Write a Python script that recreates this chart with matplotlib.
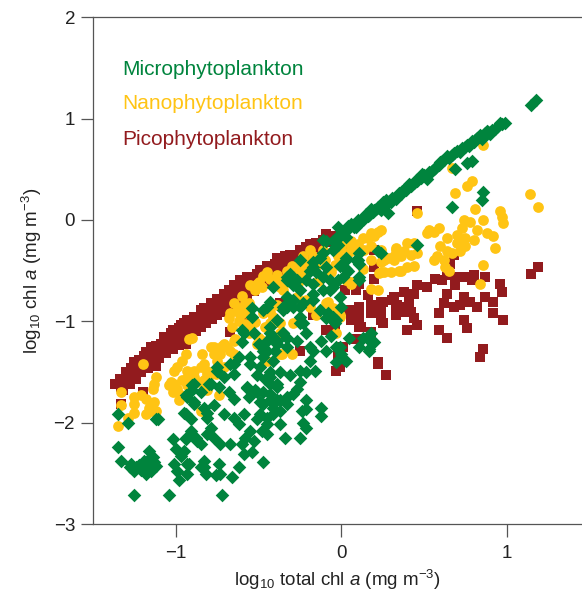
import matplotlib
matplotlib.use('Agg')
import matplotlib.pyplot as plt

plt.rcParams['font.family'] = ['Liberation Sans', 'DejaVu Sans']
plt.rcParams['mathtext.fontset'] = 'custom'
plt.rcParams['mathtext.rm'] = 'Liberation Sans'
plt.rcParams['mathtext.it'] = 'Liberation Sans:italic'

# colours of the three size classes
c_micro = '#00843D'
c_nano = '#FFC414'
c_pico = '#921B1E'

# Microphytoplankton (log10 total chl a, log10 class chl a)
micro_pts = [
    (1.18, 1.18), (1.15, 1.13), (0.97, 0.95), (0.94, 0.92), (0.91, 0.89), (0.87, 0.86),
    (0.84, 0.84), (0.82, 0.81), (0.79, 0.78), (0.76, 0.74), (0.73, 0.71), (0.70, 0.68),
    (0.67, 0.64), (0.64, 0.63), (0.62, 0.59), (0.59, 0.54), (0.57, 0.51), (0.55, 0.48),
    (0.52, 0.40), (0.46, 0.38), (0.44, 0.36), (0.42, 0.33), (0.39, 0.30), (0.36, 0.26),
    (0.33, 0.21), (0.30, 0.18), (0.27, 0.20), (0.24, 0.15), (0.22, 0.13), (0.19, 0.08),
    (0.17, 0.05), (0.13, 0.02), (0.11, -0.02), (0.08, -0.07), (0.05, -0.08), (0.02, -0.10),
    (-0.02, -0.07), (0.00, -0.15), (-0.03, -0.18), (-0.05, -0.21),
    (0.96, 0.96), (0.89, 0.87), (0.80, 0.77), (0.75, 0.72), (0.68, 0.66), (0.60, 0.57),
    (0.50, 0.44), (0.48, 0.41), (0.40, 0.32), (0.34, 0.24), (0.28, 0.17), (0.25, 0.18),
    (0.20, 0.10), (0.15, 0.06), (0.10, 0.00), (0.06, -0.04),
    (0.90, 0.85), (0.85, 0.80), (0.81, 0.79), (0.77, 0.73), (0.72, 0.67), (0.65, 0.61),
    (0.61, 0.58), (0.56, 0.50), (0.53, 0.47), (0.49, 0.45), (0.45, 0.39), (0.41, 0.35),
    (0.37, 0.29), (0.35, 0.27), (0.31, 0.22), (0.26, 0.16), (0.23, 0.12), (0.21, 0.11),
    (0.16, 0.04), (0.12, -0.01), (0.07, -0.05), (0.04, -0.06), (0.93, 0.90), (0.99, 0.96),
    (0.88, 0.88),
    (0.79, 0.58), (0.76, 0.56), (0.69, 0.50), (0.86, 0.28), (0.85, 0.20), (0.67, 0.13),
    (0.46, -0.25), (0.18, 0.11), (0.24, 0.10), (0.28, 0.07), (0.13, 0.00), (0.09, -0.07),
    (0.03, -0.17), (0.03, -0.40), (-0.11, -0.20), (-0.11, -0.33), (-0.03, -0.26), (-0.09, -0.46),
    (-0.17, -0.46), (-0.17, -0.73), (-0.25, -0.40), (-0.25, -0.86), (-0.33, -0.56), (-0.33, -0.86),
    (-0.07, -0.69), (0.01, -0.56), (0.04, -0.50), (0.11, -0.43), (0.22, -0.31), (0.24, -0.33),
    (0.11, -0.56), (0.09, -0.40),
    (0.01, -0.13), (-0.09, -0.21), (-0.05, -0.30), (-0.02, -0.25), (0.03, -0.38), (-0.01, -0.45),
    (0.11, -0.33), (0.10, -0.40), (0.03, -0.48), (0.11, -0.59), (-0.13, -0.38), (-0.17, -0.41),
    (-0.19, -0.50), (-0.15, -0.51), (-0.11, -0.56), (-0.07, -0.59), (-0.02, -0.59), (-0.05, -0.66),
    (-0.11, -0.69), (-0.17, -0.63), (-0.21, -0.59), (-0.25, -0.69), (-0.29, -0.64), (-0.31, -0.53),
    (-0.27, -0.59), (-0.33, -0.76), (-0.29, -0.79), (-0.35, -0.86), (-0.23, -0.82), (-0.17, -0.79),
    (-0.13, -0.89), (-0.01, -0.76), (0.00, -0.86), (-0.25, -0.96), (-0.09, -0.97),
    (-0.41, -0.66), (-0.33, -0.59), (-0.33, -0.76), (-0.43, -0.81), (-0.47, -0.89), (-0.54, -0.87),
    (-0.54, -0.96), (-0.39, -0.99), (-0.43, -1.06), (-0.35, -0.89), (-0.60, -1.09), (-0.60, -1.20),
    (-0.47, -1.25), (-0.39, -1.22), (-0.33, -1.16),
    (0.05, -1.16), (0.13, -1.16), (0.18, -1.20), (0.11, -1.25), (0.17, -1.29), (-0.03, -1.25),
    (0.00, -1.32), (0.03, -1.39), (-0.09, -1.29), (-0.12, -1.19), (-0.17, -1.29), (-0.19, -1.39),
    (-0.25, -1.02), (-0.05, -0.96), (-0.08, -0.92), (-0.04, -1.02),
    (-0.45, -0.86), (-0.33, -0.83), (-0.29, -0.86), (-0.23, -1.02), (-0.21, -1.12), (-0.27, -1.19),
    (-0.35, -1.12), (-0.45, -1.29), (-0.41, -1.39), (-0.19, -1.25), (-0.07, -0.96), (-0.03, -0.99),
    (-0.06, -1.14), (-0.01, -1.25), (-0.03, -1.40), (0.16, -1.16), (0.20, -1.20), (0.17, -1.27),
    (0.18, -1.12),
    (-0.37, -1.50), (-0.39, -1.62), (-0.31, -1.53), (-0.25, -1.49), (-0.25, -1.60), (-0.21, -1.50),
    (-0.16, -1.49), (-0.43, -1.62), (-0.47, -1.70), (-0.43, -1.78), (-0.39, -1.78), (-0.33, -1.82),
    (-0.37, -1.88), (-0.41, -1.91), (-0.29, -1.72), (-0.27, -1.67), (-0.21, -1.78), (-0.21, -1.86),
    (-0.24, -1.88), (-0.12, -1.85), (-0.12, -1.93), (-0.23, -2.00), (-0.21, -2.05), (-0.37, -2.01),
    (-0.45, -2.01), (-0.45, -2.11), (-0.34, -2.15), (-0.25, -2.15), (-0.49, -1.91),
    (-0.62, -1.35), (-0.55, -1.42), (-0.67, -1.42), (-0.65, -1.52), (-0.75, -1.49), (-0.79, -1.62),
    (-0.89, -1.62), (-0.85, -1.70), (-0.94, -1.73), (-0.74, -1.65), (-0.68, -1.70), (-0.65, -1.77),
    (-0.57, -1.65), (-0.52, -1.68), (-0.56, -1.75), (-0.49, -1.80), (-0.43, -1.72), (-0.41, -1.85),
    (-0.89, -1.82), (-0.77, -1.83), (-0.81, -1.90), (-0.95, -1.90), (-0.71, -1.91), (-0.65, -1.95),
    (-0.59, -1.91), (-0.62, -2.01), (-0.51, -1.96), (-0.45, -1.95), (-0.48, -2.08), (-0.55, -2.08),
    (-0.58, -2.15), (-0.53, -2.18), (-0.94, -2.15), (-0.88, -2.15), (-0.85, -2.21), (-0.79, -2.05),
    (-0.77, -2.15), (-0.73, -2.21), (-0.67, -2.21), (-0.60, -2.21), (-0.59, -2.31), (-0.54, -2.29),
    (-0.47, -2.39), (-0.95, -2.28), (-0.92, -2.41), (-0.83, -2.44), (-0.83, -2.38), (-0.74, -2.41),
    (-0.62, -2.44), (-0.76, -2.52), (-0.73, -2.51), (-0.66, -2.54), (-0.72, -2.71),
    (-0.59, -1.12), (-0.50, -1.22), (-0.45, -1.19), (-0.42, -1.14), (-0.40, -1.29), (-0.47, -1.35),
    (-0.49, -1.45), (-0.43, -1.50), (-0.46, -1.57), (-0.51, -1.53),
    (-1.35, -1.91), (-1.29, -2.00), (-1.12, -1.96), (-1.35, -2.24), (-1.33, -2.38), (-1.27, -2.41),
    (-1.24, -2.44), (-1.25, -2.48), (-1.20, -2.41), (-1.16, -2.28), (-1.14, -2.34), (-1.17, -2.41),
    (-1.12, -2.43), (-1.15, -2.48), (-1.18, -2.51), (-1.25, -2.71), (-1.04, -2.71), (-1.02, -2.16),
    (-1.00, -2.26), (-0.97, -2.33), (-1.01, -2.41), (-0.99, -2.48), (-0.98, -2.56), (-0.93, -2.51),
    (-0.93, -2.41), (-0.94, -2.16), (-0.94, -1.91), (-0.91, -1.96), (-0.91, -2.08), (-0.87, -2.18),
    (-0.85, -2.44), (-0.82, -2.51), (-0.90, -1.68), (-0.93, -1.75), (-0.89, -1.80), (-0.83, -1.85),
    (-0.81, -1.95), (-0.80, -1.62), (-0.81, -2.11),
    (-1.22, -2.42), (-1.19, -2.38), (-1.16, -2.36), (-1.13, -2.39), (-1.28, -2.44), (-1.21, -2.47),
    (-0.53, -1.12), (-0.43, -1.12), (-0.39, -1.19), (-0.35, -1.12), (-0.33, -1.25), (-0.47, -1.29),
    (-0.55, -1.35), (-0.65, -1.42), (-0.75, -1.45), (-0.71, -1.55), (-0.90, -1.63), (-0.57, -1.66),
    (-0.51, -1.70), (-0.43, -1.55), (-0.39, -1.65), (-0.47, -1.82), (-0.37, -1.78), (-0.33, -1.75),
    (-1.11, -1.96),
]

# Nanophytoplankton
nano_pts = [
    (-1.20, -1.42), (-1.12, -1.55), (-1.13, -1.62), (-1.14, -1.67), (-1.33, -1.70), (-1.25, -1.75),
    (-1.21, -1.73), (-1.25, -1.82), (-1.25, -1.90), (-1.18, -1.77), (-1.16, -1.85), (-1.13, -1.80),
    (-1.12, -1.88), (-1.15, -1.88), (-1.18, -1.91), (-1.33, -1.83), (-1.29, -1.95), (-1.35, -2.03),
    (-1.04, -1.63), (-1.01, -1.62), (-1.02, -1.70), (-0.99, -1.67), (-0.97, -1.73), (-0.98, -1.78),
    (-0.96, -1.58), (-0.94, -1.57), (-0.93, -1.63), (-0.91, -1.58), (-0.87, -1.60), (-0.99, -1.45),
    (-0.93, -1.49), (-0.96, -1.39), (-0.94, -1.32), (-0.85, -1.45), (-0.84, -1.32), (-0.83, -1.42),
    (-0.81, -1.52), (-0.85, -1.88), (-0.90, -1.16), (-0.89, -1.49),
    (-0.45, -0.51), (-0.39, -0.54), (-0.36, -0.59), (-0.50, -0.61), (-0.55, -0.64), (-0.52, -0.69),
    (-0.48, -0.66), (-0.65, -0.82), (-0.61, -0.87), (-0.67, -0.92), (-0.68, -0.97), (-0.61, -0.94),
    (-0.56, -0.82), (-0.52, -1.01), (-0.46, -1.06), (-0.50, -1.16), (-0.56, -1.12), (-0.64, -1.17),
    (-0.71, -1.22), (-0.77, -1.25), (-0.43, -0.91), (-0.39, -0.84), (-0.35, -0.69), (-0.37, -1.12),
    (-0.51, -0.63), (-0.92, -1.17), (-0.77, -1.27), (-0.72, -1.24), (-0.65, -1.19),
    (-0.11, -0.30), (0.02, -0.21), (0.06, -0.21), (0.16, -0.18), (0.20, -0.16), (0.22, -0.12),
    (0.18, -0.26), (0.24, -0.30), (0.33, -0.30), (0.32, -0.36), (0.26, -0.40), (0.24, -0.51),
    (0.30, -0.51), (0.35, -0.50), (0.18, -0.40), (0.13, -0.48), (0.06, -0.61), (0.18, -0.68),
    (0.22, -0.69), (-0.08, -0.81), (-0.05, -0.87), (-0.19, -0.30), (-0.23, -0.36), (-0.25, -0.43),
    (-0.21, -0.51), (-0.25, -0.56), (-0.33, -0.61), (-0.37, -0.66), (-0.27, -0.76), (-0.21, -0.79),
    (-0.19, -0.86), (-0.01, -0.96), (0.03, -0.59), (-0.06, -0.51),
    (0.86, 0.74), (0.67, 0.51), (0.79, 0.38), (0.76, 0.33), (0.69, 0.27), (1.14, 0.26),
    (1.19, 0.13), (0.46, 0.07), (0.81, 0.11), (0.96, 0.09), (0.97, 0.03), (0.98, -0.03),
    (0.86, 0.00), (0.74, 0.00), (0.78, -0.02), (0.73, -0.08), (0.82, -0.10), (0.88, -0.13),
    (0.92, -0.16), (0.93, -0.28), (0.80, -0.20), (0.75, -0.18), (0.70, -0.15), (0.70, -0.23),
    (0.75, -0.26), (0.72, -0.31), (0.64, -0.18), (0.59, -0.08), (0.56, -0.12), (0.52, -0.13),
    (0.60, -0.26), (0.64, -0.31), (0.58, -0.36), (0.56, -0.40), (0.62, -0.40), (0.63, -0.46),
    (0.65, -0.50), (0.86, -0.44), (0.84, -0.63), (0.44, -0.23), (0.40, -0.23), (0.38, -0.31),
    (0.33, -0.28), (0.36, -0.36), (0.42, -0.35), (0.46, -0.33), (0.44, -0.45), (0.40, -0.46),
    (0.36, -0.50), (0.32, -0.40), (0.28, -0.38), (0.24, -0.41), (0.26, -0.51), (0.23, -0.52),
    (0.06, -0.63), (-0.09, -0.82), (-0.06, -0.89), (-0.01, -0.94), (-0.03, -1.12), (-0.15, -0.94),
    (-0.29, -1.02), (-0.30, -1.32), (0.24, -0.10), (0.18, -0.13), (0.13, -0.18), (0.06, -0.26),
    (-0.17, -0.36), (-0.19, -0.43), (-0.22, -0.46), (-0.25, -0.50), (0.67, -0.33), (0.53, -0.10),
    (-0.47, -0.92), (-0.41, -0.96), (-0.37, -1.02), (-0.43, -1.02), (-0.36, -1.32), (-0.45, -1.39),
    (-1.01, -1.49), (-1.03, -1.60), (-0.79, -1.25), (-0.73, -1.32), (-0.69, -1.25), (-0.65, -1.32),
    (-0.71, -1.45), (-0.79, -1.52), (-0.75, -1.39), (-0.83, -1.58), (-0.81, -1.68), (-0.74, -1.73),
    (-0.89, -1.55), (-0.55, -1.06), (-0.51, -1.22), (-0.47, -1.19), (-0.37, -1.32),
    (-0.77, -1.32), (-0.81, -1.49), (-0.84, -1.60), (-0.76, -1.52), (-0.67, -1.29),
    (-0.47, -0.55), (-0.43, -0.58), (-0.40, -0.62), (-0.33, -0.50), (-0.30, -0.45), (-0.28, -0.55),
    (-0.26, -0.62), (-0.20, -0.42), (-0.15, -0.45), (-0.14, -0.60), (-0.10, -0.40), (-0.08, -0.50),
    (-0.04, -0.44), (-0.02, -0.36), (0.00, -0.28), (0.04, -0.33), (0.08, -0.30), (0.10, -0.24),
    (0.14, -0.30), (-0.60, -0.75), (-0.58, -0.82), (-0.63, -0.90), (-0.57, -0.92), (-0.62, -1.00),
    (-0.66, -1.06), (-0.58, -1.03),
]

# Picophytoplankton
pico_pts = [
    (-1.37, -1.62), (-1.33, -1.65), (-1.34, -1.57), (-1.29, -1.55), (-1.25, -1.49), (-1.25, -1.40),
    (-1.19, -1.34), (-1.16, -1.32), (-1.14, -1.27), (-1.12, -1.24), (-1.12, -1.44), (-1.15, -1.39),
    (-1.12, -1.34), (-1.20, -1.70), (-1.33, -1.82), (-1.03, -1.19), (-1.03, -1.12), (-0.99, -1.16),
    (-0.97, -1.11), (-0.94, -1.22),
    (-1.15, -1.25), (-1.05, -1.19), (-1.01, -1.16), (-1.02, -1.09), (-0.98, -1.07), (-0.95, -1.02),
    (-0.91, -0.99), (-0.91, -1.07), (-0.87, -0.96), (-0.85, -0.89), (-0.81, -0.94), (-0.79, -0.86),
    (-0.76, -0.84), (-0.73, -0.79), (-0.70, -0.76), (-0.67, -0.73), (-0.71, -0.86), (-0.63, -0.69),
    (-0.61, -0.76), (-0.58, -0.66), (-0.55, -0.61), (-0.53, -0.56), (-0.51, -0.53), (-0.47, -0.50),
    (-0.43, -0.46), (-0.40, -0.43), (-0.37, -0.40), (-0.34, -0.36), (-0.31, -0.35), (-0.59, -0.96),
    (-0.67, -1.11),
    (-0.57, -0.56), (-0.61, -0.59), (-0.65, -0.64), (-0.68, -0.69), (-0.71, -0.73), (-0.75, -0.78),
    (-0.79, -0.82), (-0.83, -0.87), (-0.85, -0.92), (-0.89, -0.96), (-0.93, -0.99), (-0.97, -1.04),
    (-0.99, -1.13), (-0.55, -0.66),
    (-1.30, -1.50), (-1.27, -1.46), (-1.22, -1.38), (-1.18, -1.30), (-1.09, -1.22), (-1.07, -1.15),
    (-0.89, -1.02), (-0.49, -0.49), (-0.45, -0.45), (-0.39, -0.38),
    (-1.32, -1.68), (-1.28, -1.62), (-1.24, -1.57), (-1.21, -1.50), (-1.17, -1.46), (-1.13, -1.42),
    (-1.10, -1.36), (-1.06, -1.31), (-1.02, -1.27), (-0.98, -1.23), (-0.95, -1.18), (-0.92, -1.14),
    (-0.88, -1.10), (-0.85, -1.06), (-0.82, -1.02), (-0.78, -0.98), (-0.75, -0.94), (-0.72, -0.91),
    (-0.69, -0.87), (-0.66, -0.83), (-0.63, -0.80), (-0.60, -0.77), (-0.57, -0.74), (-0.53, -0.70),
    (-0.50, -0.66), (-0.47, -0.63), (-0.44, -0.60), (-0.41, -0.57), (-0.38, -0.54), (-0.35, -0.51),
    (-0.32, -0.49), (-0.28, -0.47), (-0.24, -0.43), (-0.20, -0.40), (-0.16, -0.36),
    (-1.31, -1.58), (-1.23, -1.48), (-1.17, -1.40), (-1.08, -1.29), (-1.00, -1.20), (-0.93, -1.10),
    (-0.86, -1.00), (-0.80, -0.93), (-0.74, -0.87), (-0.68, -0.80), (-0.62, -0.72), (-0.56, -0.67),
    (-0.50, -0.59), (-0.44, -0.53), (-0.38, -0.47), (-0.32, -0.42), (-0.26, -0.38), (-0.13, -0.28),
    (-0.08, -0.22), (-0.02, -0.19), (-0.09, -0.14),
    (-0.15, -0.23), (-0.05, -0.16), (-0.17, -0.30), (-0.23, -0.33), (-0.29, -0.36), (-0.33, -0.38),
    (-0.35, -0.46), (-0.29, -0.46), (-0.36, -0.56), (-0.27, -0.40), (0.05, -0.30), (0.20, -0.30),
    (0.09, -0.69), (0.02, -0.69), (0.16, -0.74), (0.24, -0.81), (0.31, -0.79), (0.33, -0.86),
    (0.24, -0.89), (0.18, -0.92), (0.09, -0.92), (-0.17, -0.94),
    (-0.21, -0.27), (-0.11, -0.20), (-0.25, -0.30), (-0.19, -0.24),
    (0.11, -0.86), (0.18, -0.84), (0.34, -0.84), (0.33, -0.94), (0.23, -0.92), (0.11, -1.06),
    (0.18, -1.11), (0.25, -1.02), (0.22, -1.40), (0.27, -1.53), (0.01, -1.25), (-0.03, -1.49),
    (-0.25, -1.29), (-0.37, -0.82), (0.05, -0.89), (0.09, -1.17),
    (0.46, 0.09), (0.68, -0.35), (0.66, -0.43), (0.64, -0.54), (0.57, -0.58), (0.61, -0.59),
    (0.52, -0.66), (0.70, -0.56), (0.69, -0.64), (0.76, -0.56), (0.80, -0.54), (0.87, -0.56),
    (0.79, -0.59), (0.96, -0.63), (0.97, -0.71), (0.92, -0.81), (0.87, -0.76), (0.82, -0.86),
    (0.78, -0.81), (0.74, -0.76), (0.72, -0.84), (0.68, -0.86), (0.62, -0.82), (0.59, -0.92),
    (0.64, -0.73), (0.46, -0.64), (0.44, -0.73), (0.38, -0.71), (0.41, -0.81), (0.38, -0.86),
    (0.42, -0.91), (0.44, -0.97), (0.46, -1.04), (0.40, -1.09), (0.36, -0.91), (0.32, -0.76),
    (0.25, -0.81), (0.23, -0.91), (0.24, -0.99), (0.11, -0.96), (0.06, -0.99), (0.12, -1.06),
    (0.10, -1.17), (0.59, -1.09), (0.64, -1.16), (0.74, -0.99), (0.76, -1.07), (0.92, -0.92),
    (0.98, -0.99), (1.15, -0.53), (1.19, -0.46), (0.86, -1.27), (0.84, -1.35), (0.22, -1.42),
    (0.20, -0.58), (0.20, -0.46), (0.11, -0.63), (-0.04, -1.06), (-0.02, -1.32), (-0.01, -1.45),
    (-0.09, -1.09),
]

legend_names = ['Microphytoplankton', 'Nanophytoplankton', 'Picophytoplankton']
xticks = [-1, 0, 1]
yticks = [-3, -2, -1, 0, 1, 2]

fig = plt.figure(figsize=(5.82, 5.99), dpi=100)
ax = fig.add_axes([0.160, 0.125, 0.840, 0.8464])

px, py = zip(*pico_pts)
nx, ny = zip(*nano_pts)
mx, my = zip(*micro_pts)
ax.scatter(px, py, marker='s', s=56, color=c_pico, linewidths=0, zorder=2)
ax.scatter(nx, ny, marker='o', s=60, color=c_nano, linewidths=0, zorder=3)
ax.scatter(mx, my, marker='D', s=48, color=c_micro, linewidths=0, zorder=4)

ax.set_xlim(-1.5, 1.456)
ax.set_ylim(-3, 2)
ax.set_xticks(xticks)
ax.set_yticks(yticks)

for s in ['left', 'bottom', 'top']:
    ax.spines[s].set_color('#555555')
    ax.spines[s].set_linewidth(0.9)
ax.spines['right'].set_visible(False)
ax.tick_params(direction='out', length=9, width=0.9, color='#555555',
               labelsize=13.5, labelcolor='#222222')
ax.tick_params(axis='x', pad=6)
ax.tick_params(axis='y', pad=4)

ax.set_xlabel(r'log$_{10}$ total chl $a$ (mg m$^{-3}$)', fontsize=13.5,
              color='#222222', labelpad=4)
ax.set_ylabel(r'log$_{10}$ chl $a$ (mg m$^{-3}$)', fontsize=13.5,
              color='#222222', labelpad=7)

for name, col, yy in zip(legend_names, [c_micro, c_nano, c_pico], [0.897, 0.830, 0.759]):
    ax.text(0.059, yy, name, color=col, fontsize=15, va='center', ha='left',
            transform=ax.transAxes)

fig.savefig('out.png', dpi=100)
